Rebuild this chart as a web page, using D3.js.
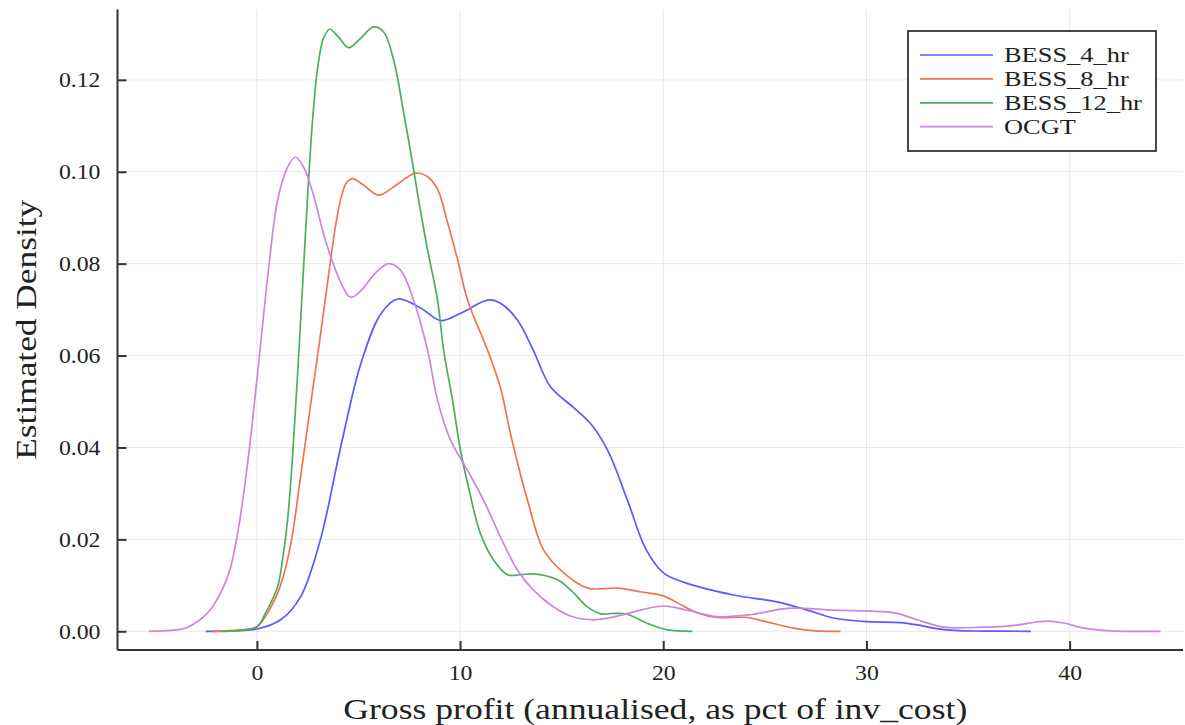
<!DOCTYPE html>
<html>
<head>
<meta charset="utf-8">
<script src="https://cdn.jsdelivr.net/npm/d3@7"></script>
<style>
  html, body { margin: 0; padding: 0; background: #fff; }
  svg { display: block; }
  text { font-family: "Liberation Serif", "DejaVu Serif", serif; fill: #222; }
</style>
</head>
<body>
<svg id="chart" width="1185" height="725"></svg>
<script>
// ---- Data (x = gross profit %, y = estimated density) ----
const seriesNames = ["BESS_4_hr", "BESS_8_hr", "BESS_12_hr", "OCGT"];

const bess4 = [
  [-2.52, 0], [-1.2, 0.0001], [0, 0.0005], [1.17, 0.0025], [2.15, 0.0075], [3.13, 0.02], [4.12, 0.04],
  [5.1, 0.058], [6.09, 0.069], [6.92, 0.0723], [8.07, 0.0703], [9.05, 0.0676],
  [10.02, 0.0692], [11.4, 0.0721], [11.99, 0.0714], [12.83, 0.0677], [13.6, 0.0612],
  [14.45, 0.0532], [15.58, 0.0487], [16.42, 0.0452], [17.26, 0.0394], [18.24, 0.0285],
  [19.13, 0.018], [20.01, 0.0127], [20.99, 0.0107], [23.46, 0.0079], [25.6, 0.0064],
  [27.1, 0.0046], [28.38, 0.0029], [30.05, 0.0021], [31.67, 0.0019], [32.5, 0.0014],
  [33.3, 0.0007], [34.3, 0.0002], [35.8, 0.00005], [38.1, 0]
];

const bess8 = [
  [-2.2, 0], [-0.8, 0.0003], [0, 0.001], [0.67, 0.0051], [1.17, 0.0101], [1.66, 0.0188],
  [2.15, 0.0336], [2.64, 0.0492], [3.13, 0.0645], [3.53, 0.0776], [3.88, 0.0885],
  [4.17, 0.0948], [4.41, 0.0976], [4.71, 0.0985], [5.25, 0.0971],
  [5.99, 0.0949], [6.73, 0.0967], [7.81, 0.0997], [8.4, 0.0989], [8.89, 0.0962],
  [9.38, 0.089], [9.87, 0.081], [10.37, 0.0721], [11.35, 0.0612], [11.99, 0.053], [12.48, 0.043],
  [13.32, 0.0285], [14.11, 0.0177], [15.1, 0.0127], [16.27, 0.0094], [17.75, 0.0094],
  [18.88, 0.0086], [20.01, 0.0077], [20.7, 0.0062], [21.69, 0.004], [22.67, 0.003],
  [24.15, 0.003], [25.13, 0.002], [26.42, 0.0007], [27.5, 0.0001], [28.72, 0]
];

const bess12 = [
  [-1.7, 0], [-0.8, 0.0002], [0, 0.001], [0.43, 0.004], [1.02, 0.0097], [1.26, 0.0155],
  [1.51, 0.0242], [1.76, 0.0383], [2.0, 0.0557], [2.25, 0.0753], [2.5, 0.0949],
  [2.74, 0.1112], [2.99, 0.1226], [3.28, 0.1291], [3.58, 0.131], [4.02, 0.1293], [4.51, 0.127],
  [5.1, 0.129], [5.74, 0.1315], [6.24, 0.1304], [6.73, 0.1243], [7.23, 0.1127],
  [7.72, 0.1003], [7.96, 0.0938], [8.4, 0.083], [8.89, 0.0721], [9.19, 0.0612],
  [9.63, 0.0503], [10.02, 0.0394], [10.37, 0.0322], [11.0, 0.0213], [11.65, 0.0155],
  [12.33, 0.0123], [12.98, 0.0123], [13.6, 0.0125], [14.8, 0.0112], [15.44, 0.009],
  [16.27, 0.0053], [16.92, 0.0038], [17.6, 0.0039], [18.24, 0.0037], [19.23, 0.0017],
  [20.21, 0.0003], [21.43, 0]
];

const ocgt = [
  [-5.32, 0], [-4.25, 0.0002], [-3.41, 0.0009], [-2.43, 0.004], [-1.79, 0.0083],
  [-1.29, 0.014], [-0.95, 0.0213], [-0.65, 0.030], [-0.31, 0.042], [0.08, 0.058],
  [0.58, 0.079], [1.02, 0.0938], [1.51, 0.101], [1.9, 0.1032], [2.3, 0.101],
  [2.74, 0.0956], [3.38, 0.085], [4.12, 0.076], [4.61, 0.0727], [5.1, 0.074],
  [5.84, 0.078], [6.48, 0.08], [7.07, 0.0786], [7.71, 0.0721], [8.4, 0.0612],
  [8.89, 0.0503], [9.53, 0.0416], [10.37, 0.035], [11.16, 0.0285], [11.99, 0.0205],
  [12.83, 0.0133], [13.6, 0.009], [14.6, 0.0053], [15.58, 0.0031], [16.57, 0.0025],
  [17.55, 0.0031], [18.88, 0.0046], [20.01, 0.0055], [21.19, 0.0046], [22.67, 0.0032],
  [24.29, 0.0036], [26.11, 0.005], [28.38, 0.0046], [30.69, 0.0043], [31.5, 0.0039],
  [32.51, 0.0025], [33.79, 0.0009], [35.76, 0.0009], [37.09, 0.0012], [38.91, 0.0022],
  [39.7, 0.0018], [40.69, 0.0007], [42.02, 0.0001], [44.47, 0]
];

const xTicks = [0, 10, 20, 30, 40];
const yTicks = [0.00, 0.02, 0.04, 0.06, 0.08, 0.10, 0.12];
const xLabel = "Gross profit (annualised, as pct of inv_cost)";
const yLabel = "Estimated Density";
const colors = ["#5a5aff", "#ee7550", "#4fad5b", "#cb86e0"];

// ---- Layout ----
const svg = d3.select("#chart");
const pLeft = 117.5, pRight = 1183, pTop = 9.5, pBottom = 650;

const x = d3.scaleLinear().domain([-6.86, 45.58]).range([pLeft, pRight]);
const y = d3.scaleLinear().domain([-0.00407, 0.1353]).range([pBottom, pTop]);

function widen(sel, k) {
  sel.each(function () {
    const w = this.getComputedTextLength();
    d3.select(this).attr("textLength", w * k).attr("lengthAdjust", "spacingAndGlyphs");
  });
}

// grid
const grid = svg.append("g");
grid.selectAll("line.gx").data(xTicks).join("line").attr("class", "gx")
  .attr("x1", d => x(d)).attr("x2", d => x(d))
  .attr("y1", pTop).attr("y2", pBottom)
  .attr("stroke", "#000").attr("stroke-opacity", 0.09).attr("stroke-width", 1);
grid.selectAll("line.gy").data(yTicks).join("line").attr("class", "gy")
  .attr("x1", pLeft).attr("x2", pRight)
  .attr("y1", d => y(d)).attr("y2", d => y(d))
  .attr("stroke", "#000").attr("stroke-opacity", 0.09).attr("stroke-width", 1);

// axes
const xAxis = d3.axisBottom(x).tickValues(xTicks).tickSizeInner(-9).tickSizeOuter(0)
  .tickPadding(14).tickFormat(d3.format("d"));
const yAxis = d3.axisLeft(y).tickValues(yTicks).tickSizeInner(-9).tickSizeOuter(0)
  .tickPadding(17).tickFormat(d3.format(".2f"));

const gx = svg.append("g").attr("transform", `translate(0,${pBottom})`).call(xAxis);
const gy = svg.append("g").attr("transform", `translate(${pLeft},0)`).call(yAxis);
[gx, gy].forEach(g => {
  g.select(".domain").attr("stroke", "#333").attr("stroke-width", 2);
  g.selectAll(".tick line").attr("stroke", "#333").attr("stroke-width", 2);
  g.selectAll(".tick text").attr("font-family", "Liberation Serif").attr("font-size", 22).attr("fill", "#333");
});
gx.select(".domain").attr("d", `M${pLeft},0H${pRight}`);
gy.select(".domain").attr("d", `M0,${pBottom}V${pTop}`);
widen(gy.selectAll(".tick text"), 1.08);
widen(gx.selectAll(".tick text"), 1.08);

// curves
const line = d3.line().x(d => x(d[0])).y(d => y(d[1])).curve(d3.curveCatmullRom.alpha(0.5));
const allSeries = [bess4, bess8, bess12, ocgt];
svg.append("g").selectAll("path").data(allSeries).join("path")
  .attr("d", d => line(d))
  .attr("fill", "none")
  .attr("stroke", (d, i) => colors[i])
  .attr("stroke-width", 1.7);

// axis labels
const xl = svg.append("text").attr("x", (pLeft + pRight) / 2 + 5).attr("y", 719)
  .attr("text-anchor", "middle").attr("font-size", 30).attr("fill", "#222")
  .text(xLabel);
widen(xl, 624 / xl.node().getComputedTextLength());
const yl = svg.append("text").attr("transform", `translate(36,${(pTop + pBottom) / 2}) rotate(-90)`)
  .attr("text-anchor", "middle").attr("font-size", 30).attr("fill", "#222")
  .text(yLabel);
widen(yl, 260 / yl.node().getComputedTextLength());

// legend
const lg = svg.append("g");
lg.append("rect").attr("x", 908).attr("y", 31).attr("width", 248).attr("height", 120)
  .attr("fill", "#fff").attr("stroke", "#333").attr("stroke-width", 1.8);
const rows = lg.selectAll("g.row").data(seriesNames).join("g").attr("class", "row")
  .attr("transform", (d, i) => `translate(0,${55 + i * 23.9})`);
rows.append("line").attr("x1", 920).attr("x2", 993).attr("y1", 0).attr("y2", 0)
  .attr("stroke", (d, i) => colors[i]).attr("stroke-width", 1.7);
const lt = rows.append("text").attr("x", 1004).attr("y", 0).attr("dy", "0.34em")
  .attr("font-size", 22).attr("fill", "#222").text(d => d);
widen(lt, 1.2);
</script>
</body>
</html>
